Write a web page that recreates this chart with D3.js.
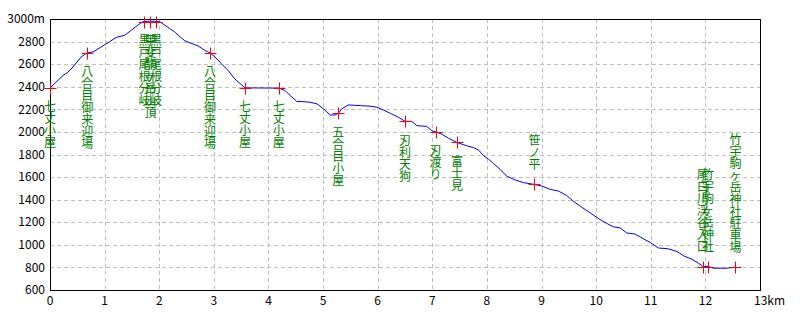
<!DOCTYPE html>
<html>
<head>
<meta charset="utf-8">
<script src="https://cdn.jsdelivr.net/npm/d3@7"></script>
<style>
  body { margin: 0; background: #fff; }
  svg { display: block; font-family: "Noto Sans CJK JP", "DejaVu Sans", sans-serif; }
</style>
</head>
<body>
<svg id="chart" width="800" height="320"></svg>
<script>
// elevation profile (km, m)
const profileKm = [0, 0.24, 0.33, 0.42, 0.57, 0.68, 0.79, 0.94, 1.09, 1.21, 1.37, 1.49, 1.61, 1.70, 1.80, 1.90, 2.01,
  2.10, 2.19, 2.28, 2.38, 2.47, 2.59, 2.71, 2.83, 2.93, 3.02, 3.14, 3.26, 3.38, 3.50, 3.57, 4.19,
  4.30, 4.40, 4.52, 4.61, 4.76, 4.89, 5.01, 5.13, 5.22, 5.28, 5.34, 5.46, 5.68, 5.86, 5.98, 6.10, 6.23, 6.38,
  6.50, 6.62, 6.72, 6.90, 6.99, 7.06, 7.17, 7.30, 7.45, 7.63, 7.75, 7.85, 7.94, 8.03, 8.12, 8.24, 8.36, 8.52,
  8.67, 8.87, 9.01, 9.16, 9.31, 9.46, 9.58, 9.71, 9.89, 10.07, 10.20, 10.32, 10.44, 10.56, 10.71, 10.87,
  10.99, 11.14, 11.32, 11.48, 11.60, 11.75, 11.87, 11.94, 11.95, 12.05, 12.15, 12.39, 12.55];
const profileElev = [2390, 2500, 2530, 2575, 2664, 2700, 2709, 2753, 2798, 2836, 2857, 2901, 2946, 2976, 2980, 2980, 2976,
  2946, 2916, 2887, 2842, 2807, 2783, 2762, 2723, 2700, 2664, 2604, 2545, 2471, 2420, 2390, 2388,
  2367, 2322, 2269, 2269, 2263, 2248, 2203, 2150, 2150, 2165, 2203, 2239, 2233, 2228, 2219, 2195, 2165, 2130,
  2094, 2094, 2055, 2049, 2010, 2001, 1981, 1943, 1907, 1877, 1862, 1838, 1788, 1758, 1720, 1669, 1609, 1574,
  1551, 1535, 1520, 1491, 1476, 1437, 1387, 1342, 1283, 1224, 1188, 1159, 1150, 1105, 1096, 1052,
  1021, 972, 965, 941, 903, 873, 838, 814, 808, 808, 793, 793, 802];

// waypoints
const pointKm   = [0, 0.68, 1.73, 1.84, 1.94, 2.93, 3.57, 4.19, 5.28, 6.50, 7.06, 7.45, 8.87, 11.95, 12.05, 12.55];
const pointElev = [2390, 2700, 2975, 2975, 2975, 2700, 2390, 2390, 2165, 2094, 2001, 1907, 1535, 808, 808, 802];
const pointName = ["七丈小屋", "八合目御来迎場", "黒戸尾根分岐", "甲斐駒ヶ岳山頂", "黒戸尾根分岐", "八合目御来迎場",
  "七丈小屋", "七丈小屋", "五合目小屋", "刃利天狗", "刃渡り", "富士見", "笹ノ平",
  "尾白川渓谷入口", "竹宇駒ヶ岳神社", "竹宇駒ヶ岳神社駐車場"];

const xTicks = d3.range(0, 14);
const yTicks = d3.range(600, 3001, 200);

const svg = d3.select("#chart");
const x = d3.scaleLinear().domain([0, 13]).range([50, 760]);
const y = d3.scaleLinear().domain([600, 3000]).range([290, 19]);

// grid
svg.append("g")
    .selectAll("line")
    .data(xTicks.slice(1, -1))
    .join("line")
    .attr("x1", d => Math.round(x(d)) + 0.5).attr("x2", d => Math.round(x(d)) + 0.5)
    .attr("y1", y(3000)).attr("y2", y(600))
    .attr("stroke", "#c0c0c0")
    .attr("stroke-dasharray", "4,3");

svg.append("g")
    .selectAll("line")
    .data(yTicks.slice(1, -1))
    .join("line")
    .attr("x1", x(0)).attr("x2", x(13))
    .attr("y1", d => Math.round(y(d)) + 0.5).attr("y2", d => Math.round(y(d)) + 0.5)
    .attr("stroke", "#c0c0c0")
    .attr("stroke-dasharray", "4,3");

// frame
svg.append("rect")
    .attr("x", x(0) + 0.5).attr("y", y(3000) + 0.5)
    .attr("width", x(13) - x(0)).attr("height", y(600) - y(3000))
    .attr("fill", "none")
    .attr("stroke", "#000");

// y tick labels
svg.append("g")
    .selectAll("text")
    .data(yTicks)
    .join("text")
    .attr("x", 45)
    .attr("y", d => y(d))
    .attr("dy", "0.35em")
    .attr("text-anchor", "end")
    .attr("font-size", 12)
    .text(d => d === 3000 ? d + "m" : d);

// x tick labels
svg.append("g")
    .selectAll("text")
    .data(xTicks)
    .join("text")
    .attr("x", d => d === 13 ? x(d) - 6 : x(d))
    .attr("y", 305)
    .attr("text-anchor", d => d === 13 ? "start" : "middle")
    .attr("font-size", 12)
    .text(d => d === 13 ? d + "km" : d);

// waypoint labels (vertical)
const points = pointKm.map((k, i) => ({km: k, elev: pointElev[i], name: pointName[i]}));

const labels = svg.append("g")
    .selectAll("text")
    .data(points)
    .join("text")
    .attr("text-anchor", "middle")
    .attr("font-size", 12)
    .attr("fill", "#008000");

labels.each(function (d) {
    const chars = Array.from(d.name);
    const above = d.elev < 1600;
    const top = above ? y(d.elev) - 14 - chars.length * 12 : y(d.elev) + 13;
    d3.select(this).selectAll("tspan")
        .data(chars)
        .join("tspan")
        .attr("x", x(d.km))
        .attr("y", (c, i) => top + 10.5 + i * 12)
        .text(c => c);
});

// profile line
const line = d3.line()
    .x(d => x(d[0]))
    .y(d => y(d[1]));

svg.append("path")
    .datum(profileKm.map((k, i) => [k, profileElev[i]]))
    .attr("d", line)
    .attr("fill", "none")
    .attr("stroke", "#0000ff")
    .attr("stroke-width", 1);

// red crosses
const marks = svg.append("g")
    .selectAll("g")
    .data(points)
    .join("g")
    .attr("transform", d => "translate(" + (Math.round(x(d.km)) + 0.5) + "," + (Math.round(y(d.elev)) + 0.5) + ")");

marks.append("line").attr("x1", -6).attr("x2", 6).attr("y1", 0).attr("y2", 0);
marks.append("line").attr("x1", 0).attr("x2", 0).attr("y1", -6).attr("y2", 6);
marks.selectAll("line").attr("stroke", "#ff0000").attr("stroke-width", 1);
</script>
</body>
</html>
